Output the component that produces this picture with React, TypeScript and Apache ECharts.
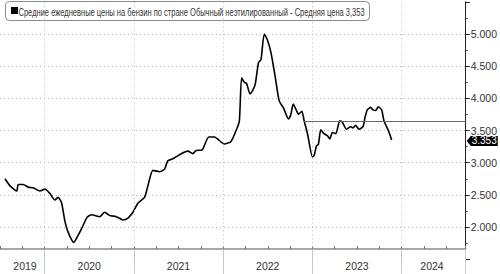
import React, { useEffect, useRef } from "react";
import * as echarts from "echarts";

// decimal-year positions of the sampled points
const yearPos = [
  2019.556, 2019.612, 2019.687, 2019.704, 2019.76, 2019.816, 2019.872, 2019.947,
  2020.003, 2020.059, 2020.115, 2020.151, 2020.189, 2020.226, 2020.263, 2020.327,
  2020.375, 2020.413, 2020.475, 2020.525, 2020.617, 2020.673, 2020.729, 2020.804,
  2020.878, 2020.934, 2020.989, 2021.045, 2021.12, 2021.157, 2021.213, 2021.288,
  2021.344, 2021.38, 2021.436, 2021.53, 2021.604, 2021.66, 2021.698, 2021.765,
  2021.839, 2021.902, 2022.014, 2022.089, 2022.151, 2022.182, 2022.207, 2022.237,
  2022.263, 2022.301, 2022.33, 2022.36, 2022.397, 2022.424, 2022.461, 2022.498,
  2022.536, 2022.584, 2022.628, 2022.676, 2022.732, 2022.759, 2022.785, 2022.822,
  2022.844, 2022.882, 2022.908, 2022.945, 2023.001, 2023.02, 2023.045, 2023.068,
  2023.094, 2023.131, 2023.168, 2023.195, 2023.224, 2023.262, 2023.307, 2023.336,
  2023.38, 2023.43, 2023.455, 2023.485, 2023.522, 2023.567, 2023.589, 2023.615,
  2023.653, 2023.679, 2023.709, 2023.738, 2023.776, 2023.802, 2023.838, 2023.865,
  2023.888,
];
// gasoline price, USD per gallon
const prices = [
  2.75, 2.64, 2.56, 2.66, 2.66, 2.62, 2.61, 2.56,
  2.59, 2.52, 2.42, 2.46, 2.38, 2.1, 1.92, 1.76,
  1.87, 1.97, 2.15, 2.19, 2.16, 2.23, 2.18, 2.16,
  2.11, 2.14, 2.23, 2.37, 2.46, 2.64, 2.88, 2.86,
  2.9, 3.03, 3.06, 3.14, 3.18, 3.14, 3.19, 3.2,
  3.4, 3.4, 3.29, 3.33, 3.52, 3.65, 4.32, 4.25,
  4.23, 4.07, 4.12, 4.22, 4.56, 4.6, 5.0, 4.9,
  4.71, 4.33, 3.96, 3.85, 3.68, 3.75, 3.91, 3.81,
  3.75, 3.8, 3.65, 3.45, 3.09, 3.11, 3.26, 3.29,
  3.51, 3.45, 3.42, 3.37, 3.47, 3.45, 3.65, 3.63,
  3.52, 3.56, 3.54, 3.58, 3.52, 3.56, 3.7, 3.82,
  3.86, 3.82, 3.81, 3.87, 3.82, 3.65, 3.54, 3.45,
  3.353,
];
const lastPrice = 3.353;
const refLineStart = 2022.908;
const refLineValue = 3.64;
const xMin = 2019.5;
const xMax = 2024.718;
const yearBoundaries = [2020, 2021, 2022, 2023, 2024];
const yearTickValues = [2020, 2021, 2022, 2023, 2024, 2024.718];
const yearLabelPos = [2019.78, 2020.5, 2021.5, 2022.5, 2023.5, 2024.34];
const yMin = 1.5;
const yMax = 5.5;
const yInterval = 0.5;
const legendLabel = "Средние ежедневные цены на бензин по стране Обычный неэтилированный - Средняя цена ";

const FONT = '"Liberation Sans", Arial, sans-serif';

export default function App() {
  const ref = useRef<HTMLDivElement>(null);
  useEffect(() => {
    document.body.style.margin = "0";
    if (!ref.current) return;
    const chart = echarts.init(ref.current, undefined, { renderer: "svg" });
    const legendText = legendLabel + lastPrice.toFixed(3).replace(".", ",");
    const canvas = document.createElement("canvas");
    const ctx = canvas.getContext("2d")!;
    ctx.font = '11px "Liberation Sans"';
    const w = ctx.measureText(legendText).width || 400;
    const sx = 347 / w;

    const data = yearPos.map((t, i) => [t, prices[i]]);
    const dotted = { color: "#b5b5b5", type: [1, 3] as any, width: 1 };

    chart.setOption({
      animation: false,
      grid: { left: 0, right: 33, top: 1.8, bottom: 14.8, containLabel: false },
      xAxis: [
        {
          type: "value",
          position: "bottom",
          min: xMin,
          max: xMax,
          interval: 0.25,
          offset: -10.2,
          axisLine: { show: true, lineStyle: { color: "#a8a8a8", width: 2 } },
          axisTick: { show: true, inside: true, length: 3, lineStyle: { color: "#777" } },
          axisLabel: { show: false },
          splitLine: { show: false },
        },
        {
          type: "value",
          position: "bottom",
          min: xMin,
          max: xMax,
          offset: -10.2,
          axisLine: { show: false },
          axisTick: {
            show: true,
            customValues: yearTickValues,
            length: 25,
            lineStyle: { color: "#c8c8c8" },
          },
          axisLabel: {
            show: true,
            customValues: yearLabelPos,
            formatter: (v: number) => String(Math.floor(v)),
            margin: 11,
            fontSize: 10.5,
            fontFamily: FONT,
            color: "#333",
          },
          splitLine: { show: false },
        },
      ],
      yAxis: {
        type: "value",
        position: "right",
        min: yMin,
        max: yMax,
        interval: yInterval,
        axisLine: { show: true, lineStyle: { color: "#222" } },
        axisTick: { show: true, length: 4, lineStyle: { color: "#222" } },
        minorTick: { show: true, splitNumber: 2, length: 2, lineStyle: { color: "#444" } },
        axisLabel: {
          margin: 5,
          fontSize: 10.5,
          fontFamily: FONT,
          color: "#333",
          formatter: (v: number) => (v < 1.9 || v > 5.1 ? "" : v.toFixed(3)),
        },
        splitLine: { show: true, showMinLine: false, showMaxLine: false, lineStyle: dotted },
      },
      graphic: [
        {
          type: "group",
          z: 100,
          children: [
            {
              type: "rect",
              shape: { x: 5.5, y: 1.5, width: 364, height: 19, r: 4 },
              style: { fill: "#fff", stroke: "#8a8a8a", lineWidth: 1 },
            },
            {
              type: "rect",
              shape: { x: 11, y: 7, width: 7, height: 7 },
              style: { fill: "#000" },
            },
            {
              type: "text",
              x: 18.5,
              y: 11.5,
              scaleX: sx,
              style: {
                text: legendText,
                font: '11px "Liberation Sans", Arial, sans-serif',
                fill: "#333",
                verticalAlign: "middle",
              },
            },
          ],
        },
      ],
      series: [
        {
          type: "line",
          data,
          xAxisIndex: 0,
          showSymbol: false,
          smooth: 0.2,
          clip: false,
          lineStyle: { color: "#000", width: 1.6 },
          silent: true,
          markLine: {
            silent: true,
            symbol: "none",
            label: { show: false },
            data: [
              ...yearBoundaries.map((y) => ({ xAxis: y, lineStyle: dotted })),
              [
                { coord: [refLineStart, refLineValue] },
                { coord: [xMax, refLineValue] },
              ],
            ],
            lineStyle: { color: "#6a6a6a", width: 1, type: "solid" },
          },
          markPoint: {
            silent: true,
            data: [
              {
                coord: [xMax, lastPrice],
                symbol: "path://M0,5L4,0H31V10H4Z",
                symbolSize: [31, 10],
                symbolKeepAspect: false,
                symbolOffset: [16.5, 1],
                itemStyle: { color: "#000" },
                label: {
                  show: true,
                  position: "inside",
                  formatter: lastPrice.toFixed(3),
                  color: "#fff",
                  fontSize: 10,
                  lineHeight: 10,
                  fontFamily: FONT,
                  offset: [2, 0],
                },
              },
            ],
          },
        },
      ],
    });
    return () => chart.dispose();
  }, []);
  return <div ref={ref} style={{ width: 500, height: 274 }} />;
}
